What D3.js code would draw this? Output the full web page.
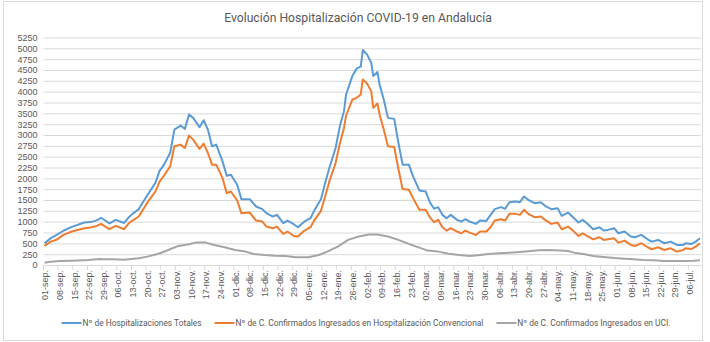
<!DOCTYPE html>
<html>
<head>
<meta charset="utf-8">
<script src="https://cdn.jsdelivr.net/npm/d3@7/dist/d3.min.js"></script>
<style>
	body { margin: 0; background: #fff; }
	svg { display: block; font-family: Roboto, "Liberation Sans", sans-serif; }
	.grid line { stroke: #d9d9d9; stroke-width: 1; }
	.axis text { fill: #595959; font-size: 9px; }
	.serie { fill: none; stroke-width: 2; stroke-linejoin: round; }
	.leyenda text { fill: #595959; font-size: 8.4px; }
</style>
</head>
<body>
<div id="chart"></div>
<script>
var titulo = "Evolución Hospitalización COVID-19 en Andalucía";

var nombres = [
	"Nº de Hospitalizaciones Totales",
	"Nº de C. Confirmados Ingresados en Hospitalización Convencional",
	"Nº de C. Confirmados Ingresados en UCI."
];

// una etiqueta por semana, empezando el 01-sep-2020
var etiquetas = ["01-sep.", "08-sep.", "15-sep.", "22-sep.", "29-sep.", "06-oct.", "13-oct.", "20-oct.", "27-oct.",
	"03-nov.", "10-nov.", "17-nov.", "24-nov.", "01-dic.", "08-dic.", "15-dic.", "22-dic.", "29-dic.",
	"05-ene.", "12-ene.", "19-ene.", "26-ene.", "02-feb.", "09-feb.", "16-feb.", "23-feb.",
	"02-mar.", "09-mar.", "16-mar.", "23-mar.", "30-mar.", "06-abr.", "13-abr.", "20-abr.", "27-abr.",
	"04-may.", "11-may.", "18-may.", "25-may.", "01-jun.", "08-jun.", "15-jun.", "22-jun.", "29-jun.", "06-jul."];

// días desde el 01-sep
var dias = [0, 3, 6, 9, 13, 19, 22, 25, 27, 31,
	34, 38, 40, 42, 45, 47, 50, 53, 55, 57,
	60, 62, 65, 67, 69, 71, 74, 76, 78, 80,
	82, 85, 87, 89, 92, 94, 98, 101, 104, 106,
	109, 111, 114, 116, 119, 121, 124, 127, 129, 132,
	134, 136, 139, 141, 143, 144, 147, 149, 151, 152,
	154, 156, 157, 159, 160, 162, 164, 167, 169, 171,
	174, 176, 179, 182, 184, 186, 188, 190, 192, 194,
	197, 199, 201, 203, 206, 208, 211, 213, 215, 218,
	220, 222, 225, 227, 229, 231, 234, 237, 239, 242,
	245, 247, 250, 252, 255, 257, 259, 262, 265, 267,
	269, 272, 274, 277, 280, 282, 285, 288, 290, 293,
	296, 299, 302, 305, 306, 309, 311, 313];

var totales = [500, 620, 700, 790, 880, 980, 990, 1030, 1090, 960,
	1040, 970, 1090, 1180, 1290, 1450, 1680, 1900, 2180, 2310,
	2590, 3125, 3218, 3140, 3472, 3395, 3179, 3341, 3125, 2739,
	2778, 2392, 2060, 2083, 1852, 1520, 1520, 1350, 1289, 1196,
	1119, 1157, 965, 1026, 941, 872, 1000, 1080, 1273, 1520,
	1890, 2238, 2700, 3200, 3549, 3935, 4360, 4530, 4576, 4961,
	4861, 4668, 4360, 4452, 4167, 3819, 3395, 3372, 2816, 2315,
	2315, 2045, 1720, 1697, 1450, 1300, 1335, 1157, 1080, 1157,
	1042, 1003, 1057, 1003, 949, 1026, 1018, 1157, 1289, 1335,
	1296, 1450, 1466, 1450, 1582, 1505, 1427, 1450, 1366, 1289,
	1312, 1134, 1211, 1119, 980, 1042, 965, 826, 872, 795,
	810, 849, 733, 772, 656, 640, 694, 594, 540, 579,
	502, 540, 463, 463, 502, 486, 540, 617];

var convencional = [440, 540, 590, 695, 772, 850, 864, 903, 950, 826,
	903, 826, 950, 1026, 1119, 1273, 1505, 1697, 1929, 2060,
	2276, 2739, 2778, 2700, 2986, 2893, 2678, 2801, 2585, 2315,
	2315, 2006, 1659, 1697, 1489, 1196, 1211, 1026, 1003, 887,
	849, 887, 718, 772, 671, 656, 790, 872, 1042, 1250,
	1582, 1929, 2353, 2800, 3164, 3450, 3819, 3858, 3935, 4282,
	4190, 4012, 3627, 3727, 3472, 3125, 2739, 2724, 2215, 1752,
	1736, 1543, 1273, 1273, 1100, 990, 1042, 872, 795, 849,
	772, 733, 795, 748, 694, 772, 772, 872, 1026, 1057,
	1026, 1180, 1180, 1157, 1273, 1180, 1103, 1119, 1042, 949,
	980, 826, 887, 810, 671, 733, 671, 594, 640, 579,
	594, 617, 517, 563, 463, 440, 502, 409, 363, 409,
	347, 386, 309, 347, 386, 370, 424, 502];

var diasUci = [0, 2, 7, 13, 21, 26, 29, 33, 38, 45,
	49, 54, 58, 61, 64, 69, 72, 77, 81, 86,
	91, 96, 100, 105, 110, 115, 120, 126, 131, 135,
	140, 145, 150, 155, 159, 164, 169, 174, 179, 183,
	188, 193, 198, 203, 207, 212, 217, 222, 227, 231,
	236, 241, 246, 250, 253, 258, 262, 267, 272, 277,
	281, 286, 291, 296, 301, 305, 310, 313];

var uci = [50, 70, 93, 100, 116, 139, 131, 131, 123, 154,
	193, 255, 324, 386, 440, 478, 517, 517, 463, 409,
	347, 309, 255, 231, 216, 208, 177, 177, 231, 309,
	424, 579, 656, 702, 702, 656, 579, 486, 401, 332,
	309, 262, 231, 208, 224, 255, 270, 285, 301, 316,
	340, 347, 332, 324, 285, 247, 208, 185, 162, 147,
	131, 116, 108, 93, 93, 93, 100, 108];

var colores = ["#5b9bd5", "#ed7d31", "#a5a5a5"];

var width = 710,
	height = 342;

var plot = { left: 43.5, right: 701, top: 37.5, bottom: 265 };

var svg = d3.select("#chart").append("svg")
	.attr("width", width)
	.attr("height", height);

// marco del gráfico
svg.append("rect")
	.attr("x", 3.5)
	.attr("y", 1.5)
	.attr("width", 699)
	.attr("height", 339)
	.attr("fill", "#fff")
	.attr("stroke", "#d9d9d9");

svg.append("text")
	.attr("x", 358)
	.attr("y", 22)
	.attr("text-anchor", "middle")
	.style("font-size", "12.2px")
	.style("fill", "#595959")
	.text(titulo);

var ultimoDia = d3.max(dias);

var xScale = d3.scaleLinear().domain([-0.5, ultimoDia + 0.5]).range([plot.left, plot.right]);
var yScale = d3.scaleLinear().domain([0, 5250]).range([plot.bottom, plot.top]);

var ticksY = d3.range(0, 5251, 250);

// rejilla horizontal y etiquetas del eje Y
var yAxis = d3.axisLeft(yScale)
	.tickValues(ticksY)
	.tickSize(-(plot.right - plot.left))
	.tickPadding(6)
	.tickFormat(function(d) { return d; });

var gy = svg.append("g")
	.attr("class", "axis grid")
	.attr("transform", "translate(" + plot.left + ",0)")
	.call(yAxis);
gy.select(".domain").remove();
gy.selectAll(".tick text").attr("x", -6);

// eje X: etiqueta cada 7 días, marcas entre semanas
var xAxis = d3.axisBottom(xScale)
	.tickValues(etiquetas.map(function(d, i) { return i * 7; }))
	.tickSize(0)
	.tickFormat(function(d, i) { return etiquetas[i]; });

var gx = svg.append("g")
	.attr("class", "axis")
	.attr("transform", "translate(0," + plot.bottom + ")")
	.call(xAxis);
gx.select(".domain").attr("stroke", "#d9d9d9");
gx.selectAll(".tick text")
	.attr("text-anchor", "end")
	.attr("transform", "rotate(-90)")
	.attr("x", -5)
	.attr("y", 0)
	.attr("dy", "0.35em");

gx.selectAll(".marca")
	.data(d3.range(-0.5, ultimoDia + 1, 7))
	.enter()
	.append("line")
	.attr("class", "marca")
	.attr("x1", function(d) { return xScale(d); })
	.attr("x2", function(d) { return xScale(d); })
	.attr("y1", 0)
	.attr("y2", 5)
	.attr("stroke", "#d9d9d9");

var series = [
	{ nombre: nombres[0], datos: dias.map(function(d, i) { return { x: d, y: totales[i] }; }) },
	{ nombre: nombres[1], datos: dias.map(function(d, i) { return { x: d, y: convencional[i] }; }) },
	{ nombre: nombres[2], datos: diasUci.map(function(d, i) { return { x: d, y: uci[i] }; }) }
];

var line = d3.line()
	.x(function(d) { return xScale(d.x); })
	.y(function(d) { return yScale(d.y); });

// se dibuja primero la UCI para que quede debajo
svg.append("g").selectAll(".serie")
	.data(series.slice().reverse())
	.enter()
	.append("path")
	.attr("class", "serie")
	.attr("d", function(d) { return line(d.datos); })
	.style("stroke", function(d) { return colores[nombres.indexOf(d.nombre)]; });

// leyenda centrada bajo el gráfico
var leyenda = svg.append("g").attr("class", "leyenda");
var items = leyenda.selectAll(".item")
	.data(series)
	.enter()
	.append("g")
	.attr("class", "item");

items.append("line")
	.attr("x1", 0)
	.attr("x2", 20)
	.attr("y1", 0)
	.attr("y2", 0)
	.attr("stroke-width", 2)
	.attr("stroke", function(d, i) { return colores[i]; });

items.append("text")
	.attr("x", 21)
	.attr("dy", "0.35em")
	.text(function(d) { return d.nombre; });

var pos = 0;
items.each(function() {
	var ancho = 21 + this.querySelector("text").getComputedTextLength();
	d3.select(this).attr("data-x", pos);
	pos += ancho + 13;
});
var total = pos - 13;
var x0 = 366 - total / 2;
items.attr("transform", function() {
	return "translate(" + (x0 + (+this.getAttribute("data-x"))) + ",323)";
});
</script>
</body>
</html>
